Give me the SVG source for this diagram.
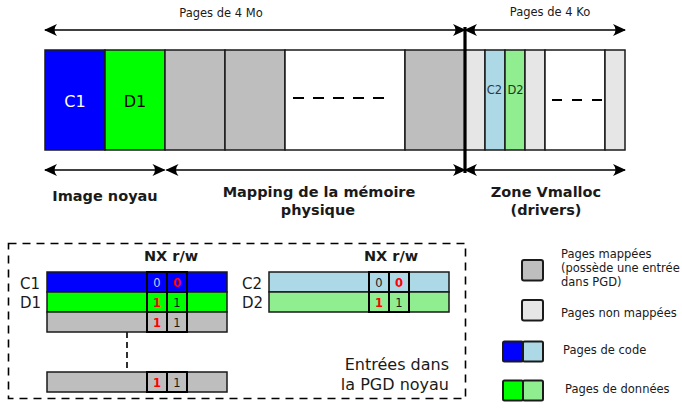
<svg xmlns="http://www.w3.org/2000/svg" width="682" height="409" viewBox="0 0 682 409">
<defs>
<style>
.cell{stroke:#1a1a1a;stroke-width:1.5}
.tcell{stroke:#000;stroke-width:2;fill:none}
.blue{fill:#0000ff}.green{fill:#00ff00}.gray{fill:#bebebe}.lgray{fill:#e6e6e6}.lblue{fill:#add8e6}.lgreen{fill:#90ee90}.white{fill:#fff}
.small{font-family:"DejaVu Sans",sans-serif;font-size:11.5px;fill:#1a1a1a}
.lbl{font-family:"DejaVu Sans",sans-serif;font-size:14.5px;font-weight:bold;fill:#1a1a1a}
.reg{font-family:"DejaVu Sans",sans-serif;font-size:15px;fill:#1a1a1a}
.big{font-family:"DejaVu Sans",sans-serif;font-size:16px;fill:#1a1a1a}
.dig{font-family:"DejaVu Sans",sans-serif;font-size:11.5px;text-anchor:middle;fill:#1a1a1a}
.red{fill:#ff0000;font-weight:bold}
.arr{stroke:#000;stroke-width:1.6;fill:none;marker-start:url(#ah);marker-end:url(#ah)}
.leg{stroke:#1a1a1a;stroke-width:2}
</style>
<marker id="ah" viewBox="-14 -7 16 14" refX="0" refY="0" markerWidth="16" markerHeight="14" markerUnits="userSpaceOnUse" orient="auto-start-reverse">
<path d="M1,0 L-12,-6 Q-7,0 -12,6 Z" fill="#000"/>
</marker>
</defs>

<g id="memory-bar">
<rect class="cell blue" x="45" y="50" width="60" height="100"/>
<rect class="cell green" x="105" y="50" width="60" height="100"/>
<rect class="cell gray" x="165" y="50" width="60" height="100"/>
<rect class="cell gray" x="225" y="50" width="60" height="100"/>
<rect class="cell white" x="285" y="50" width="120" height="100"/>
<rect class="cell gray" x="405" y="50" width="60" height="100"/>
<rect class="cell lgray" x="465" y="50" width="20" height="100"/>
<rect class="cell lblue" x="485" y="50" width="20" height="100"/>
<rect class="cell lgreen" x="505" y="50" width="20" height="100"/>
<rect class="cell lgray" x="525" y="50" width="20" height="100"/>
<rect class="cell white" x="545" y="50" width="60" height="100"/>
<rect class="cell lgray" x="605" y="50" width="20" height="100"/>
<line x1="293" y1="98" x2="385" y2="98" stroke="#000" stroke-width="2" stroke-dasharray="11,9"/>
<line x1="552" y1="100" x2="603" y2="100" stroke="#000" stroke-width="2" stroke-dasharray="10,10"/>
<text x="75" y="107" font-family="DejaVu Sans, sans-serif" font-size="16" fill="#fff" text-anchor="middle">C1</text>
<text x="135" y="107" font-family="DejaVu Sans, sans-serif" font-size="16" fill="#000" text-anchor="middle">D1</text>
<text x="494.5" y="94" font-family="DejaVu Sans, sans-serif" font-size="11.5" fill="#2a3a44" text-anchor="middle">C2</text>
<text x="515.5" y="94" font-family="DejaVu Sans, sans-serif" font-size="11.5" fill="#1e3a1e" text-anchor="middle">D2</text>
</g>

<g id="connectors">
<line class="arr" x1="45" y1="30" x2="465" y2="30"/>
<line class="arr" x1="465" y1="30" x2="625" y2="30"/>
<line class="arr" x1="45" y1="170" x2="164.5" y2="170"/>
<line class="arr" x1="166.5" y1="170" x2="465" y2="170"/>
<line class="arr" x1="465" y1="170" x2="625" y2="170"/>
<line x1="465" y1="27" x2="465" y2="173" stroke="#000" stroke-width="3.2"/>
<line x1="127" y1="332" x2="127" y2="372" stroke="#1a1a1a" stroke-width="1.8" stroke-dasharray="6,4"/>
</g>

<g id="labels">
<text class="small" x="221" y="17" text-anchor="middle">Pages de 4 Mo</text>
<text class="small" x="550" y="16" text-anchor="middle">Pages de 4 Ko</text>
<text class="lbl" x="105" y="201" text-anchor="middle">Image noyau</text>
<text class="lbl" x="319" y="197" text-anchor="middle">Mapping de la mémoire</text>
<text class="lbl" x="318" y="215" text-anchor="middle">physique</text>
<text class="lbl" x="546" y="197" text-anchor="middle">Zone Vmalloc</text>
<text class="lbl" x="546" y="215" text-anchor="middle">(drivers)</text>
</g>

<g id="pgd-box">
<rect x="8.5" y="243.5" width="457" height="155" fill="none" stroke="#000" stroke-width="1.6" stroke-dasharray="8,6"/>
<text class="big" x="449" y="370" text-anchor="end">Entrées dans</text>
<text class="big" x="449" y="390" text-anchor="end">la PGD noyau</text>
</g>

<g id="table-left">
<text class="lbl" x="171" y="261" text-anchor="middle" font-size="13">NX r/w</text>
<text class="reg" x="20" y="289">C1</text>
<text class="reg" x="20" y="308">D1</text>
<rect class="cell blue" x="47" y="272" width="180" height="20"/>
<rect class="cell green" x="47" y="292" width="180" height="20"/>
<rect class="cell gray" x="47" y="312" width="180" height="20"/>
<rect class="cell gray" x="47" y="372" width="180" height="20"/>
<rect class="tcell" x="147" y="272" width="20" height="60"/>
<rect class="tcell" x="167" y="272" width="20" height="60"/>
<line x1="147" y1="292" x2="187" y2="292" stroke="#000" stroke-width="1.5"/>
<line x1="147" y1="312" x2="187" y2="312" stroke="#000" stroke-width="1.5"/>
<rect class="tcell" x="147" y="372" width="20" height="20"/>
<rect class="tcell" x="167" y="372" width="20" height="20"/>
<text class="dig" x="157" y="287" style="fill:#ccccff">0</text>
<text class="dig red" x="177" y="287">0</text>
<text class="dig red" x="157" y="307">1</text>
<text class="dig" x="177" y="307">1</text>
<text class="dig red" x="157" y="327">1</text>
<text class="dig" x="177" y="327">1</text>
<text class="dig red" x="157" y="387">1</text>
<text class="dig" x="177" y="387">1</text>
</g>

<g id="table-right">
<text class="lbl" x="391" y="261" text-anchor="middle" font-size="13">NX r/w</text>
<text class="reg" x="242" y="289">C2</text>
<text class="reg" x="242" y="308">D2</text>
<rect class="cell lblue" x="269" y="272" width="180" height="20"/>
<rect class="cell lgreen" x="269" y="292" width="180" height="20"/>
<rect class="tcell" x="369" y="272" width="20" height="40"/>
<rect class="tcell" x="389" y="272" width="20" height="40"/>
<line x1="369" y1="292" x2="409" y2="292" stroke="#000" stroke-width="1.5"/>
<text class="dig" x="379" y="287">0</text>
<text class="dig red" x="399" y="287">0</text>
<text class="dig red" x="379" y="307">1</text>
<text class="dig" x="399" y="307">1</text>
</g>

<g id="legend">
<rect class="leg gray" x="522" y="260" width="21" height="20.5" rx="2"/>
<text class="small" x="561" y="258">Pages mappées</text>
<text class="small" x="561" y="272">(possède une entrée</text>
<text class="small" x="561" y="286">dans PGD)</text>
<rect class="leg lgray" x="522" y="300" width="21" height="20.5" rx="2"/>
<text class="small" x="561" y="317">Pages non mappées</text>
<rect class="leg blue" x="503" y="341.5" width="20" height="20" rx="1.5"/>
<rect class="leg lblue" x="523" y="341.5" width="20" height="20" rx="1.5"/>
<text class="small" x="563" y="354">Pages de code</text>
<rect class="leg green" x="503" y="380.5" width="20" height="20" rx="1.5"/>
<rect class="leg lgreen" x="523" y="380.5" width="20" height="20" rx="1.5"/>
<text class="small" x="565" y="393">Pages de données</text>
</g>
</svg>
